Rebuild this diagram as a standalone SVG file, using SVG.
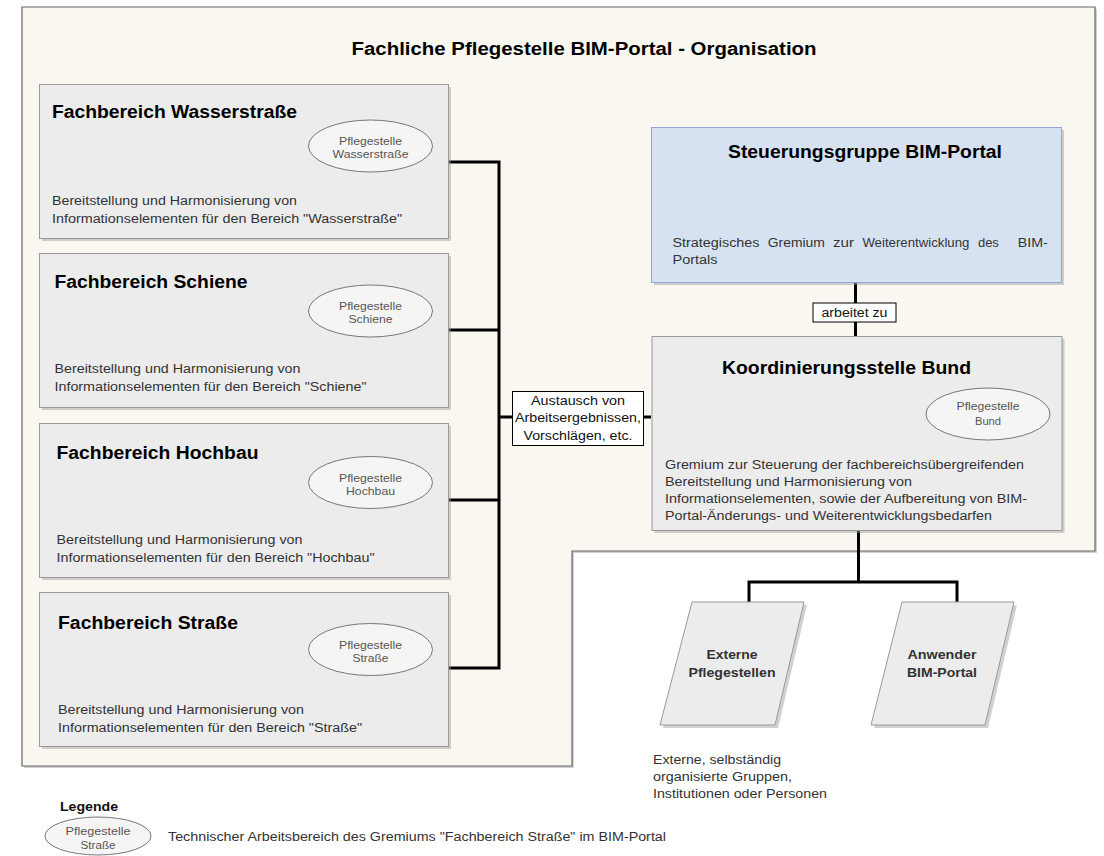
<svg xmlns="http://www.w3.org/2000/svg" width="1104" height="856" viewBox="0 0 1104 856">
<style>
text{font-family:"Liberation Sans",Arial,sans-serif}
.ttl{font-size:17.5px;font-weight:bold;fill:#000}
.body{font-size:12px;fill:#333}
.ell{font-size:10.5px;fill:#555;text-anchor:middle}
.box{fill:#ececec;stroke:#999;stroke-width:1}
.shadow{fill:#999;opacity:0.45}
.oval{fill:#f5f5f5;stroke:#777;stroke-width:1}
.conn{fill:none;stroke:#000;stroke-width:3;stroke-linejoin:miter}
.lbl{fill:#fff;stroke:#000;stroke-width:1}
.lt{font-size:12px;fill:#111;text-anchor:middle}
.pt{font-size:12px;font-weight:bold;fill:#333;text-anchor:middle}
</style>
<rect width="1104" height="856" fill="#fff"/>
<g id="container">
<polygon points="24,9 1097,9 1097,553 574,553 574,768 24,768" fill="#999" opacity="0.45"/>
<polygon points="22,7 1095,7 1095,551 572,551 572,766 22,766" fill="#f9f7f0" stroke="#666" stroke-width="1.2"/>
<text class="ttl" x="584" y="55" text-anchor="middle" textLength="465" lengthAdjust="spacingAndGlyphs">Fachliche Pflegestelle BIM-Portal - Organisation</text>
</g>
<g id="connectors">
<path class="conn" d="M448,162 H499 V668 H448"/>
<path class="conn" d="M448,330 H499"/>
<path class="conn" d="M448,500 H499"/>
<path class="conn" d="M499,417 H651"/>
<path class="conn" d="M855.5,282 V336"/>
<path class="conn" d="M858.5,530 V582"/>
<path class="conn" d="M749,602 V582 H957 V602"/>
<rect class="lbl" x="512.5" y="391.5" width="131" height="54"/>
<text class="lt" x="578" y="405" textLength="94" lengthAdjust="spacingAndGlyphs">Austausch von</text>
<text class="lt" x="578" y="422" textLength="126" lengthAdjust="spacingAndGlyphs">Arbeitsergebnissen,</text>
<text class="lt" x="578" y="440" textLength="109" lengthAdjust="spacingAndGlyphs">Vorschlägen, etc.</text>
<rect class="lbl" x="813" y="303" width="83" height="19"/>
<text class="lt" x="854.5" y="317" textLength="66" lengthAdjust="spacingAndGlyphs">arbeitet zu</text>
</g>
<g id="fb-wasserstrasse">
<rect class="shadow" x="42" y="87" width="409" height="154"/>
<rect class="box" x="39.5" y="84.5" width="409" height="154"/>
<text class="ttl" x="52" y="118" textLength="245" lengthAdjust="spacingAndGlyphs">Fachbereich Wasserstraße</text>
<ellipse class="oval" cx="370.5" cy="146" rx="62" ry="26"/>
<text class="ell" x="370.5" y="145" textLength="63" lengthAdjust="spacingAndGlyphs">Pflegestelle</text>
<text class="ell" x="370.5" y="158" textLength="76" lengthAdjust="spacingAndGlyphs">Wasserstraße</text>
<text class="body" x="52" y="205" textLength="245" lengthAdjust="spacingAndGlyphs">Bereitstellung und Harmonisierung von</text>
<text class="body" x="52" y="222.5" textLength="350" lengthAdjust="spacingAndGlyphs">Informationselementen für den Bereich "Wasserstraße"</text>
</g>
<g id="fb-schiene">
<rect class="shadow" x="42" y="256" width="409" height="154"/>
<rect class="box" x="39.5" y="253.5" width="409" height="154"/>
<text class="ttl" x="54.5" y="288" textLength="193" lengthAdjust="spacingAndGlyphs">Fachbereich Schiene</text>
<ellipse class="oval" cx="370.5" cy="311" rx="62" ry="26"/>
<text class="ell" x="370.5" y="310" textLength="63" lengthAdjust="spacingAndGlyphs">Pflegestelle</text>
<text class="ell" x="370.5" y="323" textLength="44" lengthAdjust="spacingAndGlyphs">Schiene</text>
<text class="body" x="54.5" y="373" textLength="246" lengthAdjust="spacingAndGlyphs">Bereitstellung und Harmonisierung von</text>
<text class="body" x="54.5" y="390.5" textLength="312" lengthAdjust="spacingAndGlyphs">Informationselementen für den Bereich "Schiene"</text>
</g>
<g id="fb-hochbau">
<rect class="shadow" x="42" y="426" width="409" height="154"/>
<rect class="box" x="39.5" y="423.5" width="409" height="154"/>
<text class="ttl" x="56.5" y="459" textLength="202" lengthAdjust="spacingAndGlyphs">Fachbereich Hochbau</text>
<ellipse class="oval" cx="370.5" cy="482.5" rx="62" ry="26"/>
<text class="ell" x="370.5" y="481.5" textLength="63" lengthAdjust="spacingAndGlyphs">Pflegestelle</text>
<text class="ell" x="370.5" y="494.5" textLength="49" lengthAdjust="spacingAndGlyphs">Hochbau</text>
<text class="body" x="56.5" y="544" textLength="246" lengthAdjust="spacingAndGlyphs">Bereitstellung und Harmonisierung von</text>
<text class="body" x="56.5" y="561.5" textLength="318" lengthAdjust="spacingAndGlyphs">Informationselementen für den Bereich "Hochbau"</text>
</g>
<g id="fb-strasse">
<rect class="shadow" x="42" y="595" width="409" height="154"/>
<rect class="box" x="39.5" y="592.5" width="409" height="154"/>
<text class="ttl" x="58" y="629" textLength="180" lengthAdjust="spacingAndGlyphs">Fachbereich Straße</text>
<ellipse class="oval" cx="370.5" cy="649.5" rx="62" ry="26"/>
<text class="ell" x="370.5" y="648.5" textLength="63" lengthAdjust="spacingAndGlyphs">Pflegestelle</text>
<text class="ell" x="370.5" y="661.5" textLength="36" lengthAdjust="spacingAndGlyphs">Straße</text>
<text class="body" x="58" y="714" textLength="246" lengthAdjust="spacingAndGlyphs">Bereitstellung und Harmonisierung von</text>
<text class="body" x="58" y="731.5" textLength="304" lengthAdjust="spacingAndGlyphs">Informationselementen für den Bereich "Straße"</text>
</g>
<g id="steuerungsgruppe">
<rect class="shadow" x="654" y="130" width="410" height="155"/>
<rect x="651.5" y="127.5" width="410" height="155" fill="#d6e2f1" stroke="#8ea9cf" stroke-width="1"/>
<text class="ttl" x="865" y="158" text-anchor="middle" textLength="274" lengthAdjust="spacingAndGlyphs">Steuerungsgruppe BIM-Portal</text>
<text class="body" x="672.5" y="247" textLength="87" lengthAdjust="spacingAndGlyphs">Strategisches</text>
<text class="body" x="767.8" y="247" textLength="57" lengthAdjust="spacingAndGlyphs">Gremium</text>
<text class="body" x="833" y="247" textLength="21" lengthAdjust="spacingAndGlyphs">zur</text>
<text class="body" x="862.4" y="247" textLength="107" lengthAdjust="spacingAndGlyphs">Weiterentwicklung</text>
<text class="body" x="977.9" y="247" textLength="21" lengthAdjust="spacingAndGlyphs">des</text>
<text class="body" x="1017.8" y="247" textLength="30" lengthAdjust="spacingAndGlyphs">BIM-</text>
<text class="body" x="672.5" y="264" textLength="45" lengthAdjust="spacingAndGlyphs">Portals</text>
</g>
<g id="koordinierungsstelle">
<rect class="shadow" x="654.5" y="339" width="410" height="194"/>
<rect class="box" x="652" y="336.5" width="410" height="194"/>
<text class="ttl" x="846.5" y="374" text-anchor="middle" textLength="249" lengthAdjust="spacingAndGlyphs">Koordinierungsstelle Bund</text>
<ellipse class="oval" cx="988" cy="414" rx="62" ry="26"/>
<text class="ell" x="988" y="409.5" textLength="63" lengthAdjust="spacingAndGlyphs">Pflegestelle</text>
<text class="ell" x="988" y="424.5" textLength="26" lengthAdjust="spacingAndGlyphs">Bund</text>
<text class="body" x="665" y="469" textLength="359" lengthAdjust="spacingAndGlyphs">Gremium zur Steuerung der fachbereichsübergreifenden</text>
<text class="body" x="665" y="486" textLength="247" lengthAdjust="spacingAndGlyphs">Bereitstellung und Harmonisierung von</text>
<text class="body" x="665" y="503" textLength="362" lengthAdjust="spacingAndGlyphs">Informationselementen, sowie der Aufbereitung von BIM-</text>
<text class="body" x="665" y="520" textLength="327" lengthAdjust="spacingAndGlyphs">Portal-Änderungs- und Weiterentwicklungsbedarfen</text>
</g>
<g id="externe-pflegestellen">
<polygon class="shadow" points="695,605 807,605 778,728 663,728"/>
<polygon class="box" points="692,602 804,602 775,725 660,725"/>
<text class="pt" x="732" y="659" textLength="51" lengthAdjust="spacingAndGlyphs">Externe</text>
<text class="pt" x="732" y="677" textLength="87" lengthAdjust="spacingAndGlyphs">Pflegestellen</text>
<text class="body" x="653" y="764" textLength="128" lengthAdjust="spacingAndGlyphs">Externe, selbständig</text>
<text class="body" x="653" y="781" textLength="139" lengthAdjust="spacingAndGlyphs">organisierte Gruppen,</text>
<text class="body" x="653" y="798" textLength="174" lengthAdjust="spacingAndGlyphs">Institutionen oder Personen</text>
</g>
<g id="anwender">
<polygon class="shadow" points="905,605 1017,605 988,728 874,728"/>
<polygon class="box" points="902,602 1014,602 985,725 871,725"/>
<text class="pt" x="942" y="659" textLength="69" lengthAdjust="spacingAndGlyphs">Anwender</text>
<text class="pt" x="942" y="677" textLength="70" lengthAdjust="spacingAndGlyphs">BIM-Portal</text>
</g>
<g id="legende">
<text x="60" y="811" textLength="58" lengthAdjust="spacingAndGlyphs" style="font-size:12px;font-weight:bold;fill:#111">Legende</text>
<ellipse class="oval" cx="98" cy="836" rx="53" ry="19"/>
<text class="ell" x="98" y="834.5" textLength="65" lengthAdjust="spacingAndGlyphs">Pflegestelle</text>
<text class="ell" x="98" y="848.5" textLength="35" lengthAdjust="spacingAndGlyphs">Straße</text>
<text class="body" x="168" y="841" textLength="498" lengthAdjust="spacingAndGlyphs">Technischer Arbeitsbereich des Gremiums "Fachbereich Straße" im BIM-Portal</text>
</g>
</svg>
